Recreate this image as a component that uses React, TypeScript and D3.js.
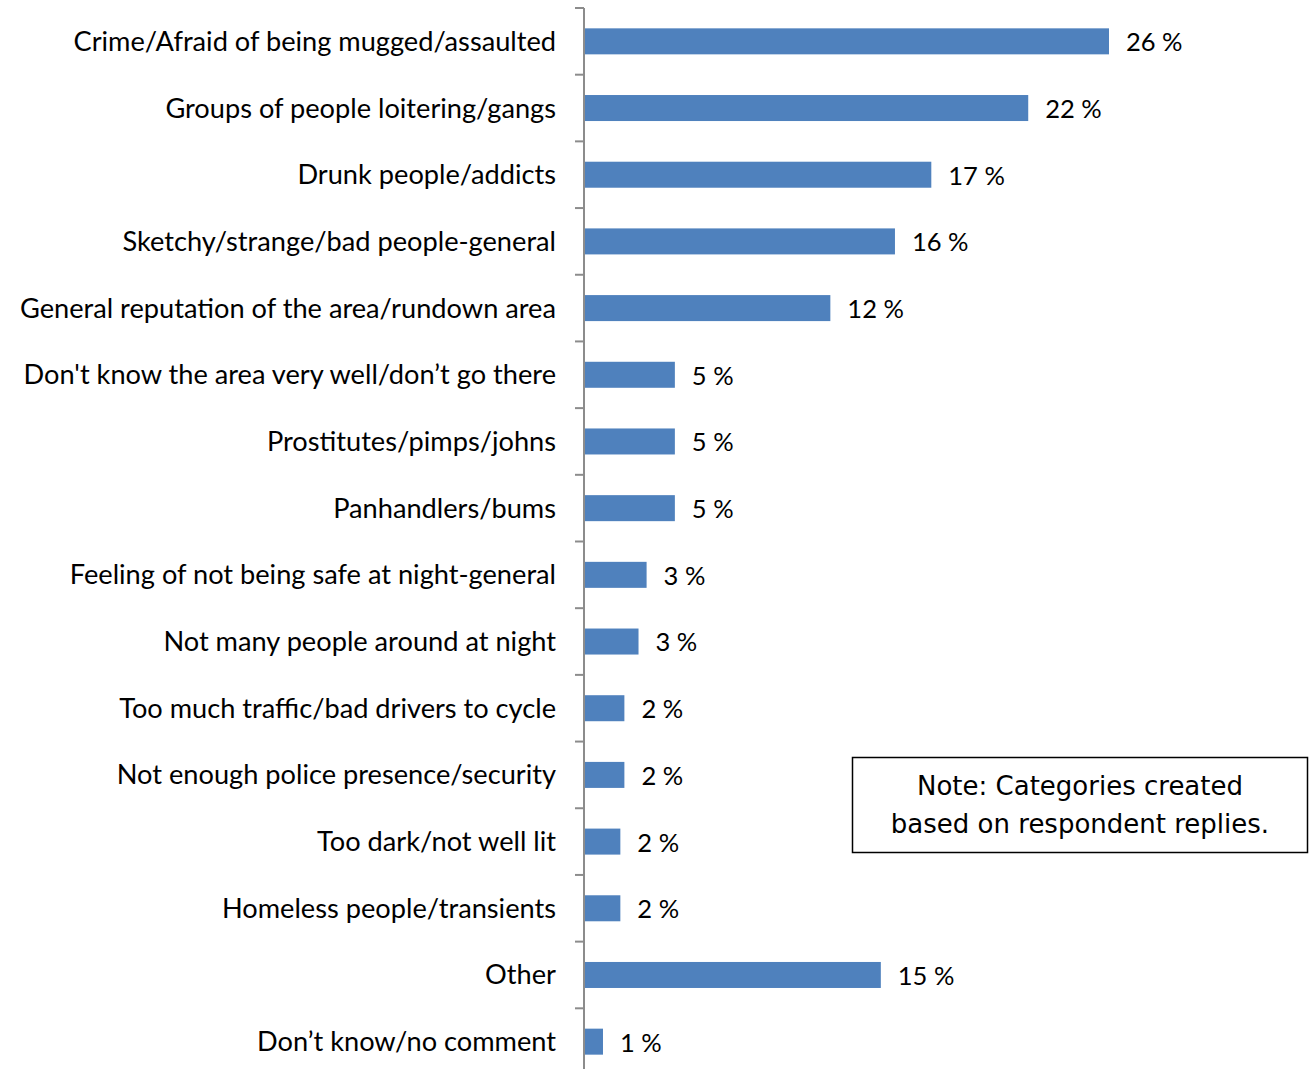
import React from "react";
import * as d3 from "d3";

const categories = [
  "Crime/Afraid of being mugged/assaulted",
  "Groups of people loitering/gangs",
  "Drunk people/addicts",
  "Sketchy/strange/bad people-general",
  "General reputation of the area/rundown area",
  "Don't know the area very well/don\u2019t go there",
  "Prostitutes/pimps/johns",
  "Panhandlers/bums",
  "Feeling of not being safe at night-general",
  "Not many people around at night",
  "Too much traffic/bad drivers to cycle",
  "Not enough police presence/security",
  "Too dark/not well lit",
  "Homeless people/transients",
  "Other",
  "Don\u2019t know/no comment",
];
const values = [26.0, 22.0, 17.2, 15.4, 12.2, 4.5, 4.5, 4.5, 3.1, 2.7, 2.0, 2.0, 1.8, 1.8, 14.7, 0.94];
const valueLabels = ["26 %", "22 %", "17 %", "16 %", "12 %", "5 %", "5 %", "5 %", "3 %", "3 %", "2 %", "2 %", "2 %", "2 %", "15 %", "1 %"];
const noteLines = ["Note: Categories created", "based on respondent replies."];

const FONT = "Lato, 'Open Sans', sans-serif";

export default function App() {
  const W = 1309, H = 1069;
  const x0 = 584;
  const x = d3.scaleLinear().domain([0, 26]).range([x0, 1109]);
  const y = d3.scaleBand<number>().domain(d3.range(categories.length)).range([8, 1075]).paddingInner(0.61).paddingOuter(0.305);
  const band = d3.scaleBand<number>().domain(d3.range(categories.length)).range([8, 1075]);
  const ticks = d3.range(categories.length + 1).map((i) => 8 + (i * (1075 - 8)) / categories.length);
  return (
    <svg width={W} height={H} style={{ position: "absolute", left: 0, top: 0, background: "#fff" }}>
      {categories.map((c, i) => (
        <g key={i}>
          <rect x={x0} y={y(i)} width={x(values[i]) - x0} height={y.bandwidth()} fill="#4f81bd" />
          <text x={556} y={(band(i) as number) + band.bandwidth() / 2} dy="0.35em" textAnchor="end" fontFamily={FONT} fontSize={27.2} fill="#000">
            {c}
          </text>
          <text x={x(values[i]) + 17} y={(band(i) as number) + band.bandwidth() / 2 + 1} dy="0.35em" fontFamily={FONT} fontSize={25.5} fill="#000">
            {valueLabels[i]}
          </text>
        </g>
      ))}
      <line x1={x0} x2={x0} y1={8} y2={1075} stroke="#8c8c8c" strokeWidth={2} />
      {ticks.map((t, i) => (
        <line key={i} x1={575} x2={x0} y1={t} y2={t} stroke="#8c8c8c" strokeWidth={2} />
      ))}
      <rect x={852.5} y={757.5} width={455} height={95} fill="#fff" stroke="#000" strokeWidth={1.5} />
      {noteLines.map((l, i) => (
        <text key={i} x={1080} y={795 + i * 38} textAnchor="middle" fontFamily="'DejaVu Sans', sans-serif" fontSize={26} fill="#000">
          {l}
        </text>
      ))}
    </svg>
  );
}
